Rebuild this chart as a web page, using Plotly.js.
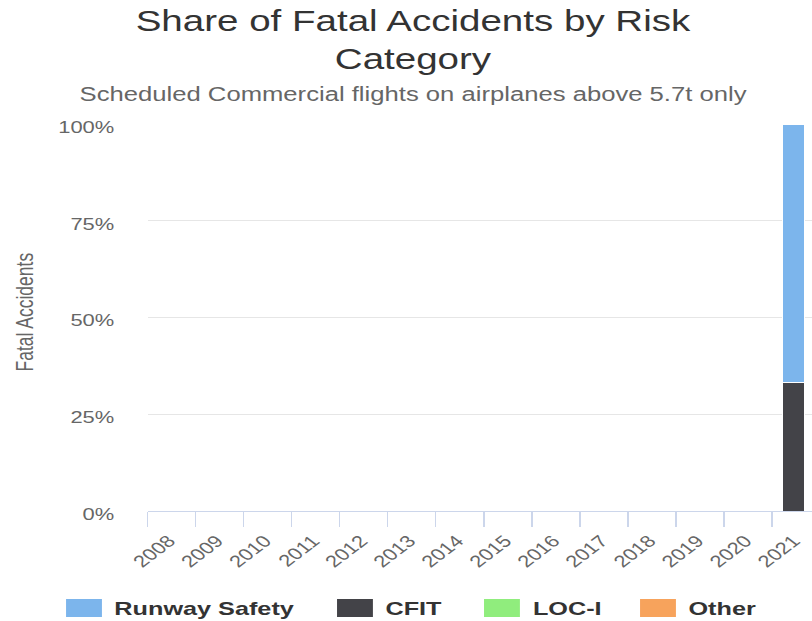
<!DOCTYPE html>
<html>
<head>
<meta charset="utf-8">
<script src="https://cdn.plot.ly/plotly-3.0.1.min.js"></script>
<style>
  html, body { margin: 0; padding: 0; overflow: hidden; background: #fff; }
  /* the reference screenshot is stretched sideways, so we stretch too */
  #chart { width: 611px; height: 621px; transform: scaleX(1.329); transform-origin: 0 0; }
</style>
</head>
<body>
<div id="chart"></div>
<script>
const years = ['2008', '2009', '2010', '2011', '2012', '2013', '2014',
               '2015', '2016', '2017', '2018', '2019', '2020', '2021'];

// fatal accident counts per risk category
const runwaySafety = [0, 0, 0, 0, 0, 0, 0, 0, 0, 0, 0, 0, 0, 2];
const cfit         = [0, 0, 0, 0, 0, 0, 0, 0, 0, 0, 0, 0, 0, 1];
const locI         = [0, 0, 0, 0, 0, 0, 0, 0, 0, 0, 0, 0, 0, 0];
const other        = [0, 0, 0, 0, 0, 0, 0, 0, 0, 0, 0, 0, 0, 0];

const seriesNames = ['Runway Safety', 'CFIT', 'LOC-I', 'Other'];
const seriesValues = [runwaySafety, cfit, locI, other];
const seriesColors = ['#7cb5ec', '#434348', '#90ed7d', '#f7a35c'];

const yTicks = [0, 25, 50, 75, 100];

const W = 611, H = 621;
const margin = { l: 111, r: 0, t: 124, b: 110 };
const plotW = W - margin.l - margin.r;
const plotH = H - margin.t - margin.b;
const px2x = p => (p - margin.l) / plotW;
const py2y = p => (H - margin.b - p) / plotH;

const FONT = 'Liberation Sans, Arial, sans-serif';

// first series sits on top of the stack, so add them in reverse
const data = [];
for (let i = seriesNames.length - 1; i >= 0; i--) {
    data.push({
        type: 'bar',
        name: seriesNames[i],
        x: years,
        y: seriesValues[i],
        width: 0.45,
        offset: -0.28,
        marker: { color: seriesColors[i], line: { color: '#ffffff', width: 1 } },
        showlegend: false
    });
}

const annotations = [
    {
        text: 'Share of Fatal Accidents by Risk<br>Category',
        xref: 'paper', yref: 'paper', x: px2x(310.8), y: py2y(40),
        xanchor: 'center', yanchor: 'middle', showarrow: false,
        font: { family: FONT, size: 29, color: '#333333' }
    },
    {
        text: 'Scheduled Commercial flights on airplanes above 5.7t only',
        xref: 'paper', yref: 'paper', x: px2x(310.5), y: py2y(95),
        xanchor: 'center', yanchor: 'middle', showarrow: false,
        font: { family: FONT, size: 19.3, color: '#666666' }
    },
    {
        text: 'Fatal Accidents', textangle: -90,
        xref: 'paper', yref: 'paper', x: px2x(18.5), y: py2y(312),
        xanchor: 'center', yanchor: 'middle', showarrow: false,
        font: { family: FONT, size: 17.5, color: '#666666' }
    }
];
const shapes = [];

// hand-made legend with wide swatches
const legendX = [49.7, 253.6, 364.2, 481.6];
seriesNames.forEach((name, i) => {
    shapes.push({
        type: 'rect', xref: 'paper', yref: 'paper',
        x0: px2x(legendX[i]), x1: px2x(legendX[i] + 27),
        y0: py2y(617), y1: py2y(599),
        fillcolor: seriesColors[i], line: { width: 0 }
    });
    annotations.push({
        text: '<b>' + name + '</b>',
        xref: 'paper', yref: 'paper', x: px2x(legendX[i] + 34.6), y: py2y(608),
        xanchor: 'left', yanchor: 'middle', showarrow: false,
        font: { family: FONT, size: 19, color: '#333333' }
    });
});

const layout = {
    width: W, height: H,
    margin: margin,
    paper_bgcolor: '#ffffff', plot_bgcolor: '#ffffff',
    font: { family: FONT, color: '#666666' },
    barmode: 'stack',
    barnorm: 'percent',
    showlegend: false,
    xaxis: {
        type: 'category',
        range: [-0.5, 13.33],
        tickson: 'boundaries',
        ticks: 'outside', ticklen: 15, tickwidth: 1, tickcolor: '#ccd6eb',
        showline: true, linecolor: '#ccd6eb', linewidth: 1,
        showgrid: false,
        tickangle: -45,
        ticklabelstandoff: 13,
        ticklabelshift: -2,
        tickfont: { family: FONT, size: 16.5, color: '#666666' }
    },
    yaxis: {
        range: [0, 100],
        tickvals: yTicks,
        ticktext: yTicks.map(v => v + '%'),
        showgrid: true, gridcolor: '#e6e6e6', gridwidth: 1,
        zeroline: false, showline: false, ticks: '',
        ticklabelstandoff: 24,
        ticklabelshift: 3,
        tickfont: { family: FONT, size: 16.5, color: '#666666' }
    },
    annotations: annotations
};
layout.shapes = shapes;

Plotly.newPlot('chart', data, layout, { displayModeBar: false, staticPlot: true });
</script>
</body>
</html>
